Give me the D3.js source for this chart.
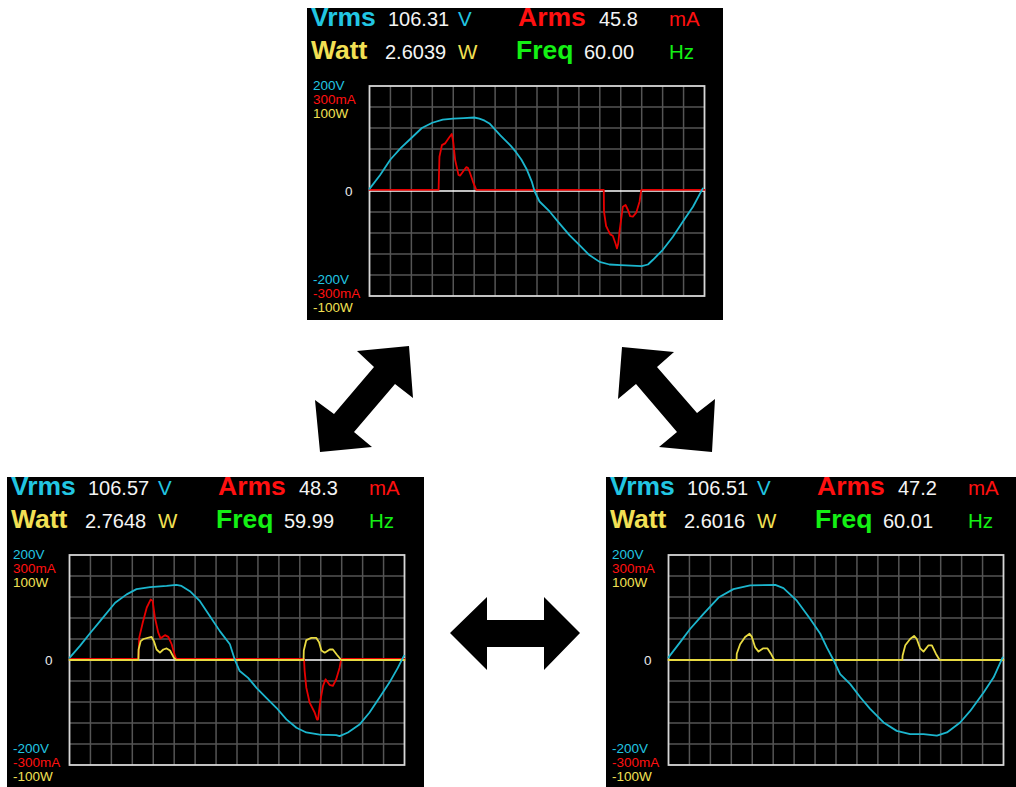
<!DOCTYPE html>
<html>
<head>
<meta charset="utf-8">
<script src="https://cdn.jsdelivr.net/npm/d3@7"></script>
<style>
  html, body { margin: 0; padding: 0; background: #ffffff; }
  svg { display: block; }
  text { font-family: "Liberation Sans", Arial, sans-serif; }
</style>
</head>
<body>
<svg id="chart" width="1016" height="787"></svg>
<script>
// ---- Readings shown in each meter header ----
const vrmsValues = ["106.31", "106.57", "106.51"];
const armsValues = ["45.8", "48.3", "47.2"];
const wattValues = ["2.6039", "2.7648", "2.6016"];
const freqValues = ["60.00", "59.99", "60.01"];

// ---- Vertical scale labels (full scale = 5 divisions) ----
const scaleTopLabels = ["200V", "300mA", "100W"];
const scaleBottomLabels = ["-200V", "-300mA", "-100W"];
const fullScale = { volt: 200, amp: 300, watt: 100 };

// ---- Waveform samples: [time in divisions (0..16), value] ----
// Screen 1: voltage (V) and current (mA)
const voltage1 = [[0,4],[0.5,30],[1,60],[1.5,82],[2,101],[2.5,120],[3,130],[3.5,136],[4,138],[4.5,139],
  [5,140],[5.25,138],[5.5,134],[5.75,128],[6,117],[6.25,106],[6.5,96],[6.75,86],[7,74],[7.25,60],[7.5,42],
  [7.75,18],[7.88,0],[8.12,-20],[8.6,-39],[9.08,-62],[9.55,-84],[10.03,-103],[10.5,-122],[10.99,-135],
  [11.46,-140],[12,-141],[12.5,-142],[13,-143],[13.3,-140],[13.54,-131],[14.01,-112],[14.49,-87],
  [14.97,-58],[15.45,-30],[15.92,5]];
const current1 = [[0,3],[3.3,3],[3.34,98],[3.46,131],[3.61,136],[3.77,150],[3.93,163],[4.0,140],[4.09,89],
  [4.25,46],[4.33,44],[4.46,55],[4.62,68],[4.7,66],[4.78,55],[4.94,27],[5.1,3],[11.19,3],[11.2,-59],
  [11.3,-100],[11.39,-111],[11.5,-124],[11.62,-128],[11.75,-150],[11.82,-164],[11.88,-150],[11.94,-116],
  [12.1,-45],[12.23,-40],[12.35,-55],[12.45,-72],[12.58,-73],[12.74,-62],[12.9,-30],[12.98,3],[16,3]];

// Screen 2: voltage (V), current (mA) and power (W)
const voltage2 = [[0,4],[0.5,27],[1,52],[1.46,74],[2.18,109],[2.73,125],[3.2,135],[3.85,139],[4.64,141],
  [5.1,143],[5.35,141],[5.75,131],[6.23,112],[6.7,84],[7.18,55],[7.66,30],[7.9,0],[8.13,-21],[8.53,-34],
  [8.93,-53],[9.4,-72],[9.88,-91],[10.36,-113],[10.84,-129],[11.31,-138],[11.95,-142],[12.74,-143],
  [12.9,-145],[13.3,-138],[13.85,-123],[14.33,-100],[14.8,-72],[15.28,-43],[15.68,-15],[15.97,8]];
const current2 = [[0,3],[3.29,3],[3.33,64],[3.5,107],[3.69,150],[3.88,173],[3.97,169],[4.08,121],[4.24,78],
  [4.35,62],[4.56,71],[4.72,66],[4.88,45],[5.04,11],[5.1,3],[11.2,3],[11.23,-31],[11.31,-79],[11.47,-122],
  [11.71,-150],[11.82,-170],[11.87,-170],[11.98,-117],[12.11,-74],[12.23,-55],[12.42,-71],[12.58,-74],
  [12.74,-55],[12.9,-22],[12.98,3],[16,3]];
const power2 = [[0,0],[3.29,0],[3.3,10],[3.4,18],[3.53,20],[3.92,22],[4.03,18],[4.16,10],[4.32,7],[4.48,10],
  [4.64,11],[4.8,9],[4.99,2],[5.1,0],[11.18,0],[11.19,9],[11.31,19],[11.55,21],[11.79,21],[11.92,17],
  [12.03,9],[12.19,7],[12.43,10],[12.58,10],[12.77,5],[12.98,0],[16,0]];

// Screen 3: voltage (V) and power (W)
const voltage3 = [[0,5],[0.56,34],[1.03,59],[1.67,88],[2.39,119],[3.1,135],[3.9,142],[5.1,143],[5.49,137],
  [6.13,113],[6.77,78],[7.25,50],[7.56,24],[7.88,0],[8.2,-27],[8.68,-46],[9.16,-71],[9.63,-93],[10.27,-119],
  [10.9,-135],[11.54,-141],[12.18,-141],[12.82,-144],[13.3,-138],[13.93,-119],[14.41,-97],[15.05,-62],
  [15.53,-33],[15.96,5]];
const power3 = [[0,0],[3.25,0],[3.26,6],[3.42,15],[3.66,22],[3.87,25],[3.98,22],[4.14,12],[4.3,8],[4.51,11],
  [4.73,11],[4.89,6],[5.05,0],[11.17,0],[11.18,4],[11.31,14],[11.54,20],[11.73,23],[11.86,20],[12.02,11],
  [12.18,8],[12.42,14],[12.58,14],[12.77,6],[12.95,0],[16,0]];

// ---- Layout ----
const COLORS = {
  cyanText: "#22c6e2", cyanTrace: "#1cb6ce",
  redText: "#ff1010", redTrace: "#e60000",
  yellowText: "#f2e054", yellowTrace: "#e8da42",
  green: "#14f014", white: "#f4f4f4",
  grid: "#555555", frame: "#d6d6d6"
};
const DIV_X = 16, DIV_Y = 10;
const PLOT = { dx: 62.5, dy: 78, w: 335, h: 210 };

const screens = [
  { x: 307, y: 8, w: 416, h: 312, idx: 0, volt: voltage1, amp: current1, watt: null },
  { x: 7, y: 477, w: 417, h: 320, idx: 1, volt: voltage2, amp: current2, watt: power2 },
  { x: 606, y: 477, w: 420, h: 320, idx: 2, volt: voltage3, amp: null, watt: power3 }
];

const svg = d3.select("#chart");
svg.append("rect").attr("width", 1016).attr("height", 787).attr("fill", "#ffffff");

// Double-headed arrows linking the three screens
const arrowShapes = [
  [[409,346],[413,398],[395,384],[354,432],[372,447],[320,452],[315,400],[334,414],[374,367],[357,351]],
  [[622,347],[674,352],[657,367],[697,413],[715,399],[712,452],[659,447],[677,432],[636,384],[618,399]],
  [[450,633],[487,597],[487,620],[544,620],[544,597],[580,633],[544,670],[544,647],[487,647],[487,670]]
];
svg.append("g").selectAll("polygon").data(arrowShapes).join("polygon")
  .attr("points", d => d.map(p => p.join(",")).join(" "))
  .attr("fill", "#000000");

const clipRoot = svg.append("defs");

screens.forEach((s, i) => {
  clipRoot.append("clipPath").attr("id", "screen-clip-" + i)
    .append("rect").attr("x", 0).attr("y", 0).attr("width", s.w).attr("height", s.h);

  const g = svg.append("g")
    .attr("transform", `translate(${s.x},${s.y})`)
    .attr("clip-path", `url(#screen-clip-${i})`);

  g.append("rect").attr("width", s.w).attr("height", s.h).attr("fill", "#000000");

  // Header readout
  const row1 = 18, row2 = 50.5;
  const header = [
    { t: "Vrms", x: 4, y: row1, c: COLORS.cyanText, b: true, fs: 26.5 },
    { t: vrmsValues[s.idx], x: 81, y: row1, c: COLORS.white, fs: 20 },
    { t: "V", x: 151, y: row1, c: COLORS.cyanText, fs: 20.5 },
    { t: "Arms", x: 211, y: row1, c: COLORS.redText, b: true, fs: 26.5 },
    { t: armsValues[s.idx], x: 292, y: row1, c: COLORS.white, fs: 20 },
    { t: "mA", x: 362, y: row1, c: COLORS.redText, fs: 20.5 },
    { t: "Watt", x: 4, y: row2, c: COLORS.yellowText, b: true, fs: 26.5 },
    { t: wattValues[s.idx], x: 78, y: row2, c: COLORS.white, fs: 20 },
    { t: "W", x: 151, y: row2, c: COLORS.yellowText, fs: 20.5 },
    { t: "Freq", x: 209, y: row2, c: COLORS.green, b: true, fs: 26.5 },
    { t: freqValues[s.idx], x: 277, y: row2, c: COLORS.white, fs: 20 },
    { t: "Hz", x: 362, y: row2, c: COLORS.green, fs: 20.5 }
  ];
  g.append("g").selectAll("text").data(header).join("text")
    .attr("x", d => d.x).attr("y", d => d.y)
    .attr("fill", d => d.c)
    .attr("font-size", d => d.fs)
    .attr("font-weight", d => d.b ? "bold" : "normal")
    .text(d => d.t);

  // Plot area and scales
  const px0 = PLOT.dx, py0 = PLOT.dy;
  const x = d3.scaleLinear().domain([0, DIV_X]).range([px0, px0 + PLOT.w]);
  const yDiv = d3.scaleLinear().domain([-DIV_Y / 2, DIV_Y / 2]).range([py0 + PLOT.h, py0]);
  const yVolt = d3.scaleLinear().domain([-fullScale.volt, fullScale.volt]).range([py0 + PLOT.h, py0]);
  const yAmp = d3.scaleLinear().domain([-fullScale.amp, fullScale.amp]).range([py0 + PLOT.h, py0]);
  const yWatt = d3.scaleLinear().domain([-fullScale.watt, fullScale.watt]).range([py0 + PLOT.h, py0]);

  const grid = g.append("g");
  grid.selectAll("line.v").data(d3.range(1, DIV_X)).join("line").attr("class", "v")
    .attr("x1", d => x(d)).attr("x2", d => x(d))
    .attr("y1", py0).attr("y2", py0 + PLOT.h)
    .attr("stroke", COLORS.grid).attr("stroke-width", 1.5);
  grid.selectAll("line.h").data(d3.range(-DIV_Y / 2 + 1, DIV_Y / 2).filter(d => d !== 0)).join("line").attr("class", "h")
    .attr("x1", px0).attr("x2", px0 + PLOT.w)
    .attr("y1", d => yDiv(d)).attr("y2", d => yDiv(d))
    .attr("stroke", COLORS.grid).attr("stroke-width", 1.5);
  grid.append("rect")
    .attr("x", px0).attr("y", py0).attr("width", PLOT.w).attr("height", PLOT.h)
    .attr("fill", "none").attr("stroke", COLORS.frame).attr("stroke-width", 1.8);
  grid.append("line")
    .attr("x1", px0).attr("x2", px0 + PLOT.w)
    .attr("y1", yDiv(0)).attr("y2", yDiv(0))
    .attr("stroke", "#ffffff").attr("stroke-width", 1.6);

  // Scale labels
  const labelColors = [COLORS.cyanText, COLORS.redText, COLORS.yellowText];
  g.append("g").selectAll("text").data(scaleTopLabels).join("text")
    .attr("x", 6).attr("y", (d, k) => py0 + 4 + k * 14)
    .attr("fill", (d, k) => labelColors[k]).attr("font-size", 13.5).text(d => d);
  g.append("g").selectAll("text").data(scaleBottomLabels).join("text")
    .attr("x", 6).attr("y", (d, k) => py0 + PLOT.h - 12 + k * 14)
    .attr("fill", (d, k) => labelColors[k]).attr("font-size", 13.5).text(d => d);
  g.append("text")
    .attr("x", px0 - 17).attr("y", yDiv(0) + 4.5)
    .attr("text-anchor", "end").attr("fill", "#e8e8e8").attr("font-size", 13.5).text("0");

  // Traces
  const traces = g.append("g")
    .attr("fill", "none").attr("stroke-width", 1.8)
    .attr("stroke-linejoin", "round").attr("stroke-linecap", "round");
  if (s.amp) {
    traces.append("path").datum(s.amp)
      .attr("d", d3.line().x(d => x(d[0])).y(d => yAmp(d[1])))
      .attr("stroke", COLORS.redTrace);
  }
  if (s.watt) {
    traces.append("path").datum(s.watt)
      .attr("d", d3.line().x(d => x(d[0])).y(d => yWatt(d[1])))
      .attr("stroke", COLORS.yellowTrace);
  }
  traces.append("path").datum(s.volt)
    .attr("d", d3.line().x(d => x(d[0])).y(d => yVolt(d[1])))
    .attr("stroke", COLORS.cyanTrace);
});
</script>
</body>
</html>
